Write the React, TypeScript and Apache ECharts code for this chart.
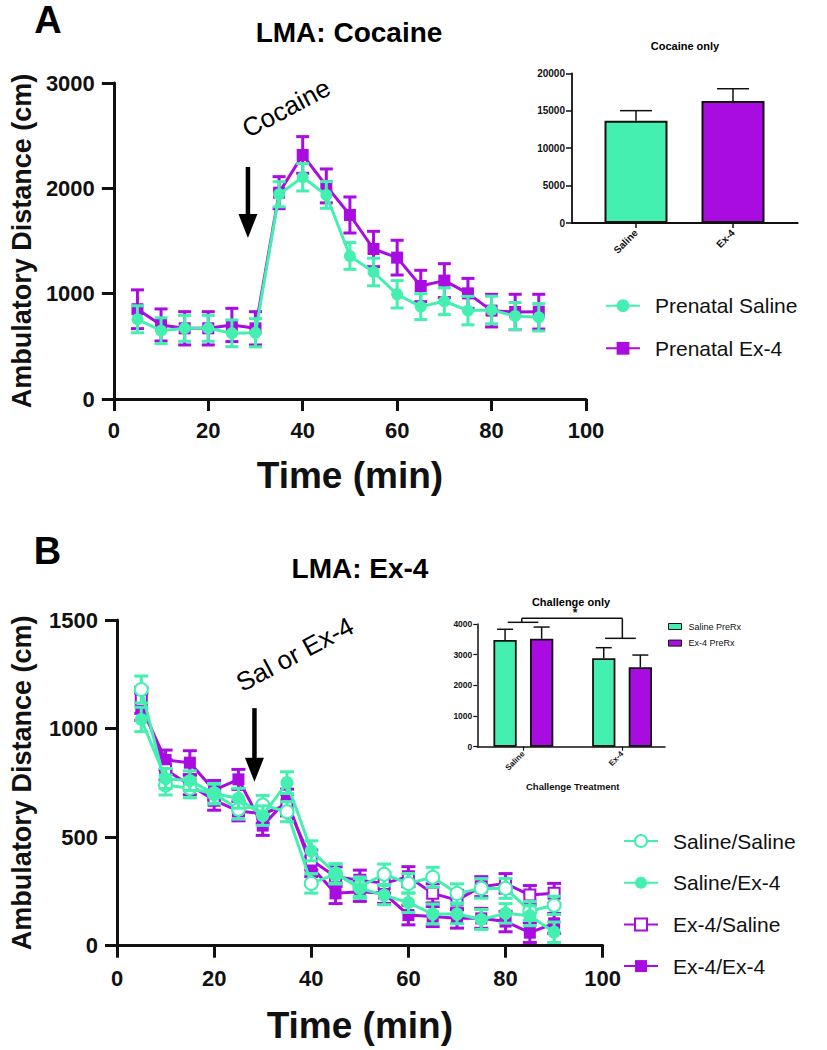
import React, { useEffect, useRef } from "react";
import * as echarts from "echarts";

const GREEN = "#44F0B0";
const PURPLE = "#A80CE0";
const INK = "#111111";
const FONT = "'Liberation Sans', Arial, Helvetica, sans-serif";

// ---------- Panel A: LMA Cocaine ----------
const timeA = [5, 10, 15, 20, 25, 30, 35, 40, 45, 50, 55, 60, 65, 70, 75, 80, 85, 90];
const prenatalSaline = [757, 649, 671, 671, 624, 629, 1944, 2105, 1937, 1358, 1206, 994, 877, 928, 839, 845, 788, 776];
const prenatalSalineSem = [128, 122, 123, 123, 127, 134, 119, 130, 127, 127, 131, 130, 123, 127, 135, 131, 128, 130];
const prenatalEx4 = [852, 703, 671, 671, 703, 671, 1959, 2317, 2023, 1747, 1424, 1342, 1073, 1124, 1003, 839, 826, 829];
const prenatalEx4Sem = [184, 152, 158, 158, 158, 158, 152, 174, 161, 171, 168, 165, 149, 161, 142, 155, 168, 165];

const cocaineOnlyCats = ["Saline", "Ex-4"];
const cocaineOnlyMeans = [13670, 16300];
const cocaineOnlySem = [1340, 1640];

// ---------- Panel B: LMA Ex-4 ----------
const timeB = [5, 10, 15, 20, 25, 30, 35, 40, 45, 50, 55, 60, 65, 70, 75, 80, 85, 90];
const salSal = [1180, 740, 725, 700, 628, 648, 617, 287, 330, 272, 329, 287, 315, 241, 264, 264, 160, 186];
const salSalSem = [62, 46, 44, 47, 45, 44, 46, 45, 46, 44, 47, 45, 46, 44, 45, 46, 44, 42];
const salEx4 = [1042, 770, 760, 700, 679, 599, 751, 437, 333, 264, 233, 198, 146, 146, 121, 149, 138, 62];
const salEx4Sem = [56, 46, 45, 44, 46, 45, 50, 46, 45, 46, 44, 45, 46, 45, 46, 45, 46, 47];
const ex4Sal = [1130, 810, 740, 670, 620, 608, 648, 395, 318, 302, 287, 318, 241, 210, 272, 287, 233, 241];
const ex4SalSem = [60, 46, 45, 46, 45, 44, 50, 46, 45, 46, 45, 46, 44, 45, 46, 45, 44, 46];
const ex4Ex4 = [1100, 855, 843, 716, 766, 553, 671, 364, 241, 249, 241, 141, 134, 126, 126, 111, 60, 103];
const ex4Ex4Sem = [62, 46, 55, 45, 46, 45, 50, 46, 47, 45, 46, 45, 46, 45, 46, 47, 45, 46];

const challengeCats = ["Saline", "Ex-4"];
const salinePreRx = [3478, 2882];
const salinePreRxSem = [350, 346];
const ex4PreRx = [3521, 2588];
const ex4PreRxSem = [380, 400];

// ---------- annotations (data units) ----------
const cocaineArrow = [28.4, 2203, 1529];
const cocaineLabel = [36.5, 2763];
const challengeArrow = [28.3, 1094, 755];
const challengeLabel = [36.6, 1343];
// significance bracket: [category position (0 = Saline band centre, 1 = Ex-4 band centre), value]
const bracketLeft = [-0.158, 0.152, 4055];
const bracketTop = [-0.016, 1.003, 4185];
const bracketRight = [0.828, 1.139, 3533];
const bracketStar = [0.524, 4348];

const plain = (v: number) => String(v);

function errorBars(name: string, xs: number[], means: number[], sems: number[], color: string, axis: number, capHalf: number, lw: number, z: number) {
  return {
    type: "custom",
    name,
    xAxisIndex: axis,
    yAxisIndex: axis,
    z,
    silent: true,
    data: xs.map((x, i) => [x, means[i] - sems[i], means[i] + sems[i]]),
    encode: { x: 0, y: [1, 2] },
    renderItem: (_p: any, api: any) => {
      const x = api.value(0);
      const lo = api.coord([x, api.value(1)]);
      const hi = api.coord([x, api.value(2)]);
      const style = { stroke: color, lineWidth: lw, fill: "none" };
      return {
        type: "group",
        children: [
          { type: "line", shape: { x1: lo[0], y1: lo[1], x2: hi[0], y2: hi[1] }, style },
          { type: "line", shape: { x1: lo[0] - capHalf, y1: lo[1], x2: lo[0] + capHalf, y2: lo[1] }, style },
          { type: "line", shape: { x1: hi[0] - capHalf, y1: hi[1], x2: hi[0] + capHalf, y2: hi[1] }, style },
        ],
      };
    },
  };
}

function barErrors(name: string, means: number[], sems: number[], axis: number, offsetPx: number, capHalf: number, z: number) {
  return {
    type: "custom",
    name,
    xAxisIndex: axis,
    yAxisIndex: axis,
    z,
    silent: true,
    data: means.map((m, i) => [i, m, m + sems[i]]),
    encode: { x: 0, y: [1, 2] },
    renderItem: (_p: any, api: any) => {
      const i = api.value(0);
      const lo = api.coord([i, api.value(1)]);
      const hi = api.coord([i, api.value(2)]);
      const x = lo[0] + offsetPx;
      const style = { stroke: INK, lineWidth: 1.5, fill: "none" };
      return {
        type: "group",
        children: [
          { type: "line", shape: { x1: x, y1: lo[1], x2: x, y2: hi[1] }, style },
          { type: "line", shape: { x1: x - capHalf, y1: hi[1], x2: x + capHalf, y2: hi[1] }, style },
        ],
      };
    },
  };
}

function arrowNote(arrow: number[], label: number[], text: string, axis: number) {
  return {
    type: "custom",
    xAxisIndex: axis,
    yAxisIndex: axis,
    z: 20,
    silent: true,
    data: [[arrow[0], arrow[1], arrow[2], label[0], label[1]]],
    renderItem: (_p: any, api: any) => {
      const x = api.value(0);
      const top = api.coord([x, api.value(1)]);
      const tip = api.coord([x, api.value(2)]);
      const lab = api.coord([api.value(3), api.value(4)]);
      const headH = 24;
      const headW = 19;
      return {
        type: "group",
        children: [
          { type: "line", shape: { x1: top[0], y1: top[1], x2: tip[0], y2: tip[1] - headH + 2 }, style: { stroke: "#000", lineWidth: 4.5 } },
          {
            type: "polygon",
            shape: { points: [[tip[0] - headW / 2, tip[1] - headH], [tip[0] + headW / 2, tip[1] - headH], [tip[0], tip[1]]] },
            style: { fill: "#000" },
          },
          {
            type: "text",
            x: lab[0],
            y: lab[1],
            rotation: (28 * Math.PI) / 180,
            style: { text, fontSize: 26, fontFamily: FONT, fill: "#000", align: "center", verticalAlign: "middle" },
          },
        ],
      };
    },
  };
}

function bracketSeries(axis: number) {
  return {
    type: "custom",
    xAxisIndex: axis,
    yAxisIndex: axis,
    z: 20,
    silent: true,
    data: [[0, 4000]],
    renderItem: (_p: any, api: any) => {
      const c0 = api.coord([0, 0]);
      const c1 = api.coord([1, 0]);
      const px = (f: number) => c0[0] + f * (c1[0] - c0[0]);
      const py = (v: number) => api.coord([0, v])[1];
      const style = { stroke: INK, lineWidth: 1.5, fill: "none" };
      const seg = (x1: number, y1: number, x2: number, y2: number) => ({ type: "line", shape: { x1, y1, x2, y2 }, style });
      return {
        type: "group",
        children: [
          seg(px(bracketLeft[0]), py(bracketLeft[2]), px(bracketLeft[1]), py(bracketLeft[2])),
          seg(px(bracketTop[0]), py(bracketLeft[2]), px(bracketTop[0]), py(bracketTop[2])),
          seg(px(bracketTop[0]), py(bracketTop[2]), px(bracketTop[1]), py(bracketTop[2])),
          seg(px(bracketTop[1]), py(bracketTop[2]), px(bracketTop[1]), py(bracketRight[2])),
          seg(px(bracketRight[0]), py(bracketRight[2]), px(bracketRight[1]), py(bracketRight[2])),
          {
            type: "text",
            x: px(bracketStar[0]),
            y: py(bracketStar[1]),
            style: { text: "*", fontSize: 12, fontWeight: "bold", fontFamily: FONT, fill: INK, align: "center", verticalAlign: "middle" },
          },
        ],
      };
    },
  };
}

function lineSeries(name: string, xs: number[], ys: number[], color: string, symbol: string, size: number, axis: number, z: number) {
  const empty = symbol.indexOf("empty") === 0;
  return {
    type: "line",
    name,
    xAxisIndex: axis,
    yAxisIndex: axis,
    z,
    data: xs.map((x, i) => [x, ys[i]]),
    symbol,
    symbolSize: size,
    showAllSymbol: true,
    lineStyle: { color, width: 3 },
    itemStyle: { color, borderColor: color, borderWidth: empty ? 3 : 0 },
    emphasis: { disabled: true },
  };
}

const mainAxisLine = { show: true, onZero: false, lineStyle: { color: INK, width: 3 } };
const mainTick = { show: true, inside: false, length: 12, lineStyle: { color: INK, width: 3 } };
const mainLabel = { fontSize: 22, fontWeight: "bold", fontFamily: FONT, color: INK, formatter: plain };
const nameStyleY = { fontSize: 27, fontWeight: "bold", fontFamily: FONT, color: INK };
const nameStyleX = { fontSize: 37, fontWeight: "bold", fontFamily: FONT, color: INK };

function buildOption() {
  const grids = [
    { left: 112, top: 83, width: 474, height: 316 },
    { left: 572, top: 73.3, width: 225.7, height: 149.7 },
    { left: 587.5, top: 73.3, width: 194, height: 149.7 },
    { left: 115.7, top: 620, width: 487, height: 325.7 },
    { left: 477.3, top: 624, width: 187.7, height: 122.7 },
    { left: 474, top: 624, width: 197.4, height: 122.7 },
  ];
  const hiddenValueX = (g: number, width: number) => ({
    type: "value",
    gridIndex: g,
    min: 0,
    max: 1,
    axisLine: { show: true, lineStyle: { color: INK, width } },
    axisTick: { show: false },
    axisLabel: { show: false },
    splitLine: { show: false },
  });
  const xAxes = [
    {
      type: "value", gridIndex: 0, min: 0, max: 100, interval: 20,
      axisLine: mainAxisLine, axisTick: mainTick, axisLabel: { ...mainLabel, margin: 20 }, splitLine: { show: false },
      name: "Time (min)", nameLocation: "middle", nameGap: 58, nameTextStyle: nameStyleX,
    },
    hiddenValueX(1, 1.8),
    {
      type: "category", gridIndex: 2, data: cocaineOnlyCats,
      axisLine: { show: false },
      axisTick: { show: true, alignWithLabel: true, length: 5, lineStyle: { color: INK, width: 1.5 } },
      axisLabel: { rotate: 45, margin: 8, fontSize: 10, fontWeight: "bold", fontFamily: FONT, color: INK },
      splitLine: { show: false },
    },
    {
      type: "value", gridIndex: 3, min: 0, max: 100, interval: 20,
      axisLine: mainAxisLine, axisTick: mainTick, axisLabel: { ...mainLabel, margin: 22 }, splitLine: { show: false },
      name: "Time (min)", nameLocation: "middle", nameGap: 61, nameTextStyle: nameStyleX,
    },
    hiddenValueX(4, 1.5),
    {
      type: "category", gridIndex: 5, data: challengeCats,
      axisLine: { show: false },
      axisTick: { show: true, alignWithLabel: true, length: 4, lineStyle: { color: INK, width: 1.2 } },
      axisLabel: { rotate: 45, margin: 6, fontSize: 8, fontWeight: "bold", fontFamily: FONT, color: INK },
      splitLine: { show: false },
      name: "Challenge Treatment", nameLocation: "middle", nameGap: 35,
      nameTextStyle: { fontSize: 9.5, fontWeight: "bold", fontFamily: FONT, color: INK },
    },
  ];
  const yAxes = [
    {
      type: "value", gridIndex: 0, min: 0, max: 3000, interval: 1000,
      axisLine: mainAxisLine, axisTick: mainTick, axisLabel: { ...mainLabel, margin: 19 }, splitLine: { show: false },
      name: "Ambulatory Distance (cm)", nameLocation: "middle", nameGap: 78, nameTextStyle: nameStyleY,
    },
    {
      type: "value", gridIndex: 1, min: 0, max: 20000, interval: 5000,
      axisLine: { show: true, lineStyle: { color: INK, width: 1.8 } },
      axisTick: { show: true, length: 6, lineStyle: { color: INK, width: 1.5 } },
      axisLabel: { margin: 7, fontSize: 10, fontWeight: "bold", fontFamily: FONT, color: INK, formatter: plain },
      splitLine: { show: false },
    },
    { type: "value", gridIndex: 2, min: 0, max: 20000, show: false, splitLine: { show: false } },
    {
      type: "value", gridIndex: 3, min: 0, max: 1500, interval: 500,
      axisLine: mainAxisLine, axisTick: mainTick, axisLabel: { ...mainLabel, margin: 19 }, splitLine: { show: false },
      name: "Ambulatory Distance (cm)", nameLocation: "middle", nameGap: 82, nameTextStyle: nameStyleY,
    },
    {
      type: "value", gridIndex: 4, min: 0, max: 4000, interval: 1000,
      axisLine: { show: true, lineStyle: { color: INK, width: 1.5 } },
      axisTick: { show: true, length: 4, lineStyle: { color: INK, width: 1.2 } },
      axisLabel: { margin: 5, fontSize: 8.5, fontWeight: "bold", fontFamily: FONT, color: INK, formatter: plain },
      splitLine: { show: false },
    },
    { type: "value", gridIndex: 5, min: 0, max: 4000, show: false, splitLine: { show: false } },
  ];

  const barWB = 23.3;
  const barGapB = 0.57;
  const offB = (barWB * (1 + barGapB)) / 2;

  const series: any[] = [
    // Panel A main
    errorBars("errEx4A", timeA, prenatalEx4, prenatalEx4Sem, PURPLE, 0, 6.5, 3, 3),
    lineSeries("Prenatal Ex-4", timeA, prenatalEx4, PURPLE, "rect", 12, 0, 4),
    errorBars("errSalA", timeA, prenatalSaline, prenatalSalineSem, GREEN, 0, 6.5, 3, 5),
    lineSeries("Prenatal Saline", timeA, prenatalSaline, GREEN, "circle", 12, 0, 6),
    arrowNote(cocaineArrow, cocaineLabel, "Cocaine", 0),
    // Panel A inset
    {
      type: "bar", name: "Cocaine only", xAxisIndex: 2, yAxisIndex: 2, barWidth: 63, z: 3,
      data: cocaineOnlyMeans.map((v, i) => ({ value: v, itemStyle: { color: i === 0 ? GREEN : PURPLE } })),
      itemStyle: { borderColor: INK, borderWidth: 2 },
      emphasis: { disabled: true },
    },
    barErrors("errCocOnly", cocaineOnlyMeans, cocaineOnlySem, 2, 0, 16, 4),
    // Panel B main
    errorBars("errEx4Ex4", timeB, ex4Ex4, ex4Ex4Sem, PURPLE, 3, 7, 3, 3),
    lineSeries("Ex-4/Ex-4", timeB, ex4Ex4, PURPLE, "rect", 12, 3, 4),
    errorBars("errEx4Sal", timeB, ex4Sal, ex4SalSem, PURPLE, 3, 7, 3, 5),
    lineSeries("Ex-4/Saline", timeB, ex4Sal, PURPLE, "emptyRect", 11, 3, 6),
    errorBars("errSalSal", timeB, salSal, salSalSem, GREEN, 3, 7, 3, 7),
    lineSeries("Saline/Saline", timeB, salSal, GREEN, "emptyCircle", 13, 3, 8),
    errorBars("errSalEx4", timeB, salEx4, salEx4Sem, GREEN, 3, 7, 3, 9),
    lineSeries("Saline/Ex-4", timeB, salEx4, GREEN, "circle", 13, 3, 10),
    arrowNote(challengeArrow, challengeLabel, "Sal or Ex-4", 3),
    // Panel B inset
    {
      type: "bar", name: "Saline PreRx", xAxisIndex: 5, yAxisIndex: 5, barWidth: barWB, barGap: `${barGapB * 100}%`, z: 3,
      data: salinePreRx, itemStyle: { color: GREEN, borderColor: INK, borderWidth: 1.8 }, emphasis: { disabled: true },
    },
    {
      type: "bar", name: "Ex-4 PreRx", xAxisIndex: 5, yAxisIndex: 5, barWidth: barWB, barGap: `${barGapB * 100}%`, z: 3,
      data: ex4PreRx, itemStyle: { color: PURPLE, borderColor: INK, borderWidth: 1.8 }, emphasis: { disabled: true },
    },
    barErrors("errSalPre", salinePreRx, salinePreRxSem, 5, -offB, 8, 4),
    barErrors("errEx4Pre", ex4PreRx, ex4PreRxSem, 5, offB, 8, 4),
    bracketSeries(5),
  ];

  const bigLegendText = { fontSize: 21, fontFamily: FONT, color: INK, lineHeight: 24, padding: [0, 0, 0, 10] };

  const titleText = (text: string, x: number, y: number, size: number) => ({
    type: "text",
    x,
    y,
    style: { text, fontSize: size, fontWeight: "bold", fontFamily: FONT, fill: "#000", align: "center", verticalAlign: "middle" },
  });

  return {
    animation: false,
    backgroundColor: "#ffffff",
    grid: grids,
    xAxis: xAxes,
    yAxis: yAxes,
    series,
    legend: [
      {
        data: ["Prenatal Saline", "Prenatal Ex-4"],
        orient: "vertical", left: 600, top: 288.7, itemWidth: 34, itemHeight: 16, itemGap: 18.6,
        selectedMode: false, textStyle: bigLegendText,
      },
      {
        data: ["Saline/Saline", "Saline/Ex-4", "Ex-4/Saline", "Ex-4/Ex-4"],
        orient: "vertical", left: 618, top: 824, itemWidth: 34, itemHeight: 15, itemGap: 17.7,
        selectedMode: false, textStyle: bigLegendText,
      },
      {
        data: ["Saline PreRx", "Ex-4 PreRx"],
        orient: "vertical", left: 663, top: 616, itemWidth: 13, itemHeight: 6, itemGap: 5.6, icon: "rect",
        selectedMode: false,
        itemStyle: { borderColor: INK, borderWidth: 1 },
        textStyle: { fontSize: 9, fontFamily: FONT, color: INK, lineHeight: 11, padding: [0, 0, 0, 2] },
      },
    ],
    graphic: [
      titleText("A", 48, 20, 38),
      titleText("LMA: Cocaine", 349, 32, 28),
      titleText("Cocaine only", 685, 46, 11),
      titleText("B", 47.5, 551, 38),
      titleText("LMA: Ex-4", 360, 568, 28),
      titleText("Challenge only", 571, 602, 11),
    ],
  };
}

export default function App() {
  const ref = useRef<HTMLDivElement>(null);
  useEffect(() => {
    if (!ref.current) return;
    const chart = echarts.init(ref.current, undefined, { renderer: "svg" });
    chart.setOption(buildOption() as any);
    return () => chart.dispose();
  }, []);
  return (
    <div
      ref={ref}
      style={{ position: "absolute", left: 0, top: 0, width: 827, height: 1050, background: "#fff" }}
    />
  );
}
